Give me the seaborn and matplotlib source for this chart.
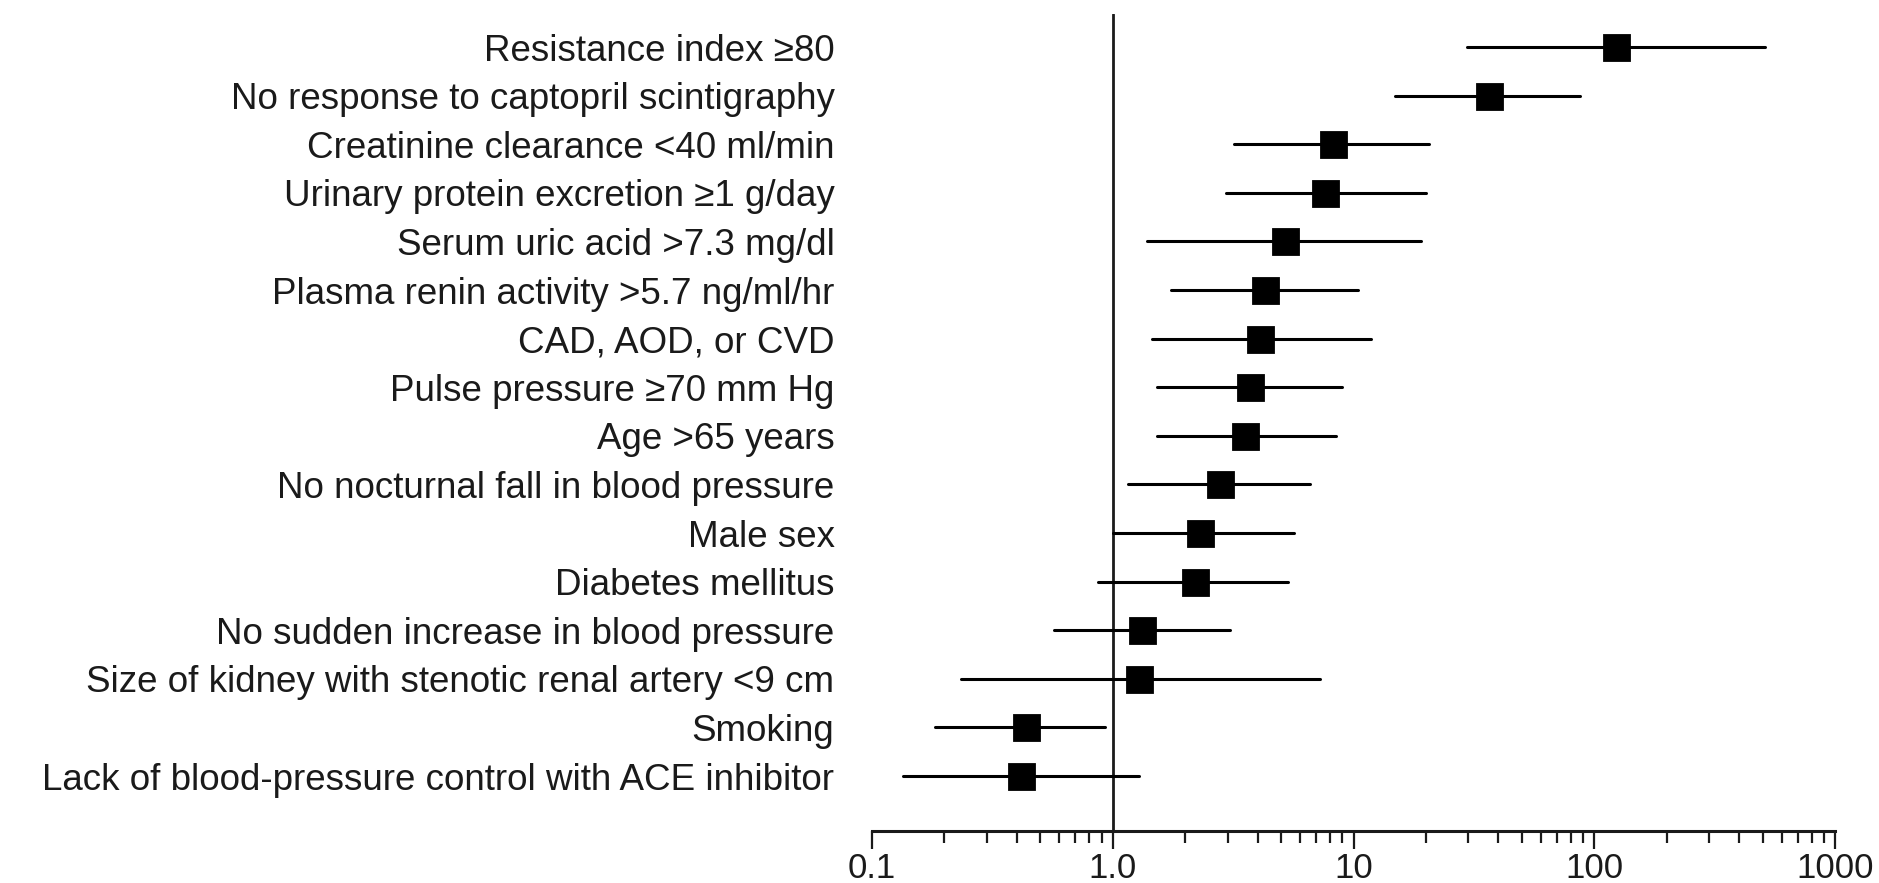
import numpy as np
import pandas as pd
import matplotlib
matplotlib.use("Agg")
import matplotlib.pyplot as plt
import seaborn as sns
from matplotlib.ticker import FixedLocator, LogLocator, NullFormatter

factors = [
    "Resistance index \u226580",
    "No response to captopril scintigraphy",
    "Creatinine clearance <40 ml/min",
    "Urinary protein excretion \u22651 g/day",
    "Serum uric acid >7.3 mg/dl",
    "Plasma renin activity >5.7 ng/ml/hr",
    "CAD, AOD, or CVD",
    "Pulse pressure \u226570 mm Hg",
    "Age >65 years",
    "No nocturnal fall in blood pressure",
    "Male sex",
    "Diabetes mellitus",
    "No sudden increase in blood pressure",
    "Size of kidney with stenotic renal artery <9 cm",
    "Smoking",
    "Lack of blood-pressure control with ACE inhibitor",
]
risk = [123, 36.6, 8.2, 7.6, 5.2, 4.3, 4.1, 3.7, 3.55, 2.78, 2.30, 2.19, 1.32, 1.29, 0.437, 0.415]
ci_low = [29.6, 14.9, 3.19, 2.94, 1.39, 1.74, 1.45, 1.52, 1.52, 1.16, 1.0, 0.871, 0.569, 0.235, 0.182, 0.134]
ci_high = [514, 87.1, 20.6, 20.1, 19.1, 10.4, 11.8, 8.93, 8.49, 6.57, 5.65, 5.37, 3.07, 7.26, 0.927, 1.29]
xtick_values = [0.1, 1.0, 10, 100, 1000]
xtick_labels = ["0.1", "1.0", "10", "100", "1000"]

df = pd.DataFrame({
    "factor": np.repeat(factors, 3),
    "value": np.ravel(np.column_stack([ci_low, risk, ci_high])),
})

sns.set_theme(style="white")
plt.rcParams["font.family"] = ["Liberation Sans", "DejaVu Sans"]

W, H = 1879, 883
fig = plt.figure(figsize=(W / 100, H / 100), dpi=100)
ax_left, ax_right = 872 / W, 1835 / W
ax_top, ax_bottom = 1 - 14 / H, 1 - 831 / H
ax = fig.add_axes([ax_left, ax_bottom, ax_right - ax_left, ax_top - ax_bottom])

sns.pointplot(
    data=df, x="value", y="factor", order=factors,
    estimator="median", errorbar=lambda v: (v.min(), v.max()),
    log_scale=True, linestyle="none", marker="s", markersize=18,
    color="black", err_kws={"linewidth": 2.2, "color": "black"},
    ax=ax,
)

ax.set_xscale("log")
ax.set_xlim(0.1, 1000)
ax.set_ylim(len(factors) - 1 + 1.13, -0.68)
ax.axvline(1.0, color="#1a1a1a", linewidth=2.0, zorder=0)

for s in ["top", "right", "left"]:
    ax.spines[s].set_visible(False)
ax.spines["bottom"].set_color("#1a1a1a")
ax.spines["bottom"].set_linewidth(2.2)

ax.xaxis.set_major_locator(FixedLocator(xtick_values))
ax.set_xticklabels(xtick_labels)
ax.xaxis.set_minor_locator(LogLocator(base=10, subs=np.arange(2, 10)))
ax.xaxis.set_minor_formatter(NullFormatter())
ax.tick_params(axis="x", which="major", direction="out", length=13, width=1.6,
               color="#1a1a1a", labelsize=25, labelcolor="#1a1a1a", pad=2, bottom=True)
ax.tick_params(axis="x", which="minor", direction="out", length=8.5, width=1.6,
               color="#1a1a1a", bottom=True)
ax.tick_params(axis="y", length=0, pad=27, labelsize=26.5, labelcolor="#1a1a1a")
ax.set_xlabel("")
ax.set_ylabel("")
ax.grid(False)

fig.savefig("out.png", dpi=100, facecolor="white")
